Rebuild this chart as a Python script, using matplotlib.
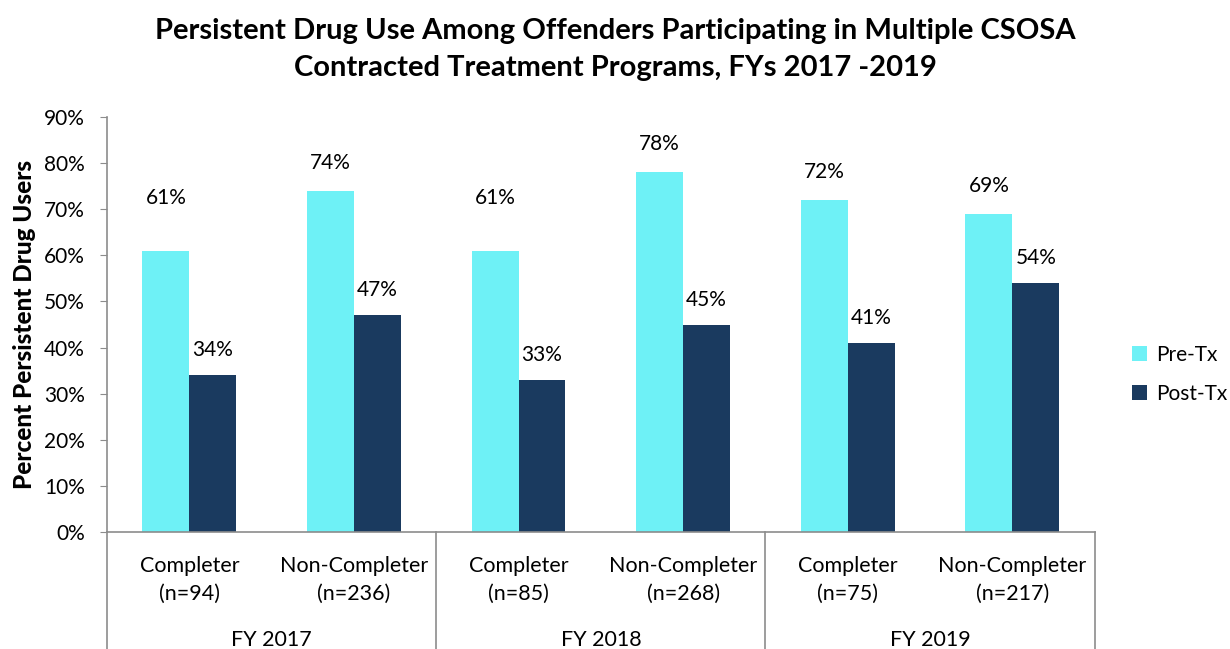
import matplotlib
matplotlib.use("Agg")
import matplotlib.pyplot as plt
import matplotlib.transforms as mtransforms
import numpy as np

plt.rcParams['font.family'] = ['Lato', 'DejaVu Sans']

groups = ["FY 2017", "FY 2018", "FY 2019"]
categories = ["Completer\n(n=94)", "Non-Completer\n(n=236)",
              "Completer\n(n=85)", "Non-Completer\n(n=268)",
              "Completer\n(n=75)", "Non-Completer\n(n=217)"]
pre_tx = [61, 74, 61, 78, 72, 69]
post_tx = [34, 47, 33, 45, 41, 54]
yticks = [0, 10, 20, 30, 40, 50, 60, 70, 80, 90]

cyan = "#6EF1F6"
navy = "#1A3A5F"
grey = "#8C8C8C"

fig = plt.figure(figsize=(12.3, 6.49), dpi=100)
ax = fig.add_axes([0.087, 0.18, 0.803, 0.64])

x = np.arange(len(categories))
w = 0.285
b1 = ax.bar(x - w / 2, pre_tx, w, color=cyan, label="Pre-Tx")
b2 = ax.bar(x + w / 2, post_tx, w, color=navy, label="Post-Tx")

# data labels (the two 61% labels sit higher in the original)
pre_pad = [38, 20, 38, 20, 20, 20]
for rect, v, p in zip(b1, pre_tx, pre_pad):
    ax.annotate(f"{v}%", (rect.get_x() + rect.get_width() / 2, v),
                xytext=(0, p), textcoords="offset points",
                ha="center", va="center", fontsize=15)
for rect, v in zip(b2, post_tx):
    ax.annotate(f"{v}%", (rect.get_x() + rect.get_width() / 2, v),
                xytext=(0, 18), textcoords="offset points",
                ha="center", va="center", fontsize=15)

ax.set_xlim(-0.5, len(categories) - 0.5)
ax.set_ylim(0, 90)
ax.set_yticks(yticks)
ax.set_yticklabels([f"{t}%" for t in yticks], fontsize=15)
ax.tick_params(axis="y", length=5, color=grey, pad=11)
ax.set_xticks(x)
ax.set_xticklabels(categories, fontsize=15.5, linespacing=1.5)
ax.tick_params(axis="x", length=0, pad=17)

for s in ["top", "right"]:
    ax.spines[s].set_visible(False)
for s in ["left", "bottom"]:
    ax.spines[s].set_color(grey)
    ax.spines[s].set_linewidth(1.2)

# group separators and labels
trans = mtransforms.blended_transform_factory(ax.transData, ax.transAxes)
for k in range(len(groups) + 1):
    xs = 2 * k - 0.5
    ax.plot([xs, xs], [0, -0.29], color=grey, lw=1.2, transform=trans, clip_on=False)
for k, g in enumerate(groups):
    ax.text(2 * k + 0.5, -0.26, g, transform=trans, ha="center", va="center", fontsize=15.5)

ax.set_ylabel("Percent Persistent Drug Users", fontsize=17.5, fontweight="black", labelpad=6)

fig.suptitle("Persistent Drug Use Among Offenders Participating in Multiple CSOSA\n"
             "Contracted Treatment Programs, FYs 2017 -2019",
             fontsize=21, fontweight="bold", y=0.972, linespacing=1.5)

ax.legend(loc="center left", bbox_to_anchor=(1.019, 0.38), frameon=False,
          fontsize=15, handlelength=0.7, handleheight=0.7, labelspacing=0.9,
          handletextpad=0.45)

fig.savefig("out.png", dpi=100)
